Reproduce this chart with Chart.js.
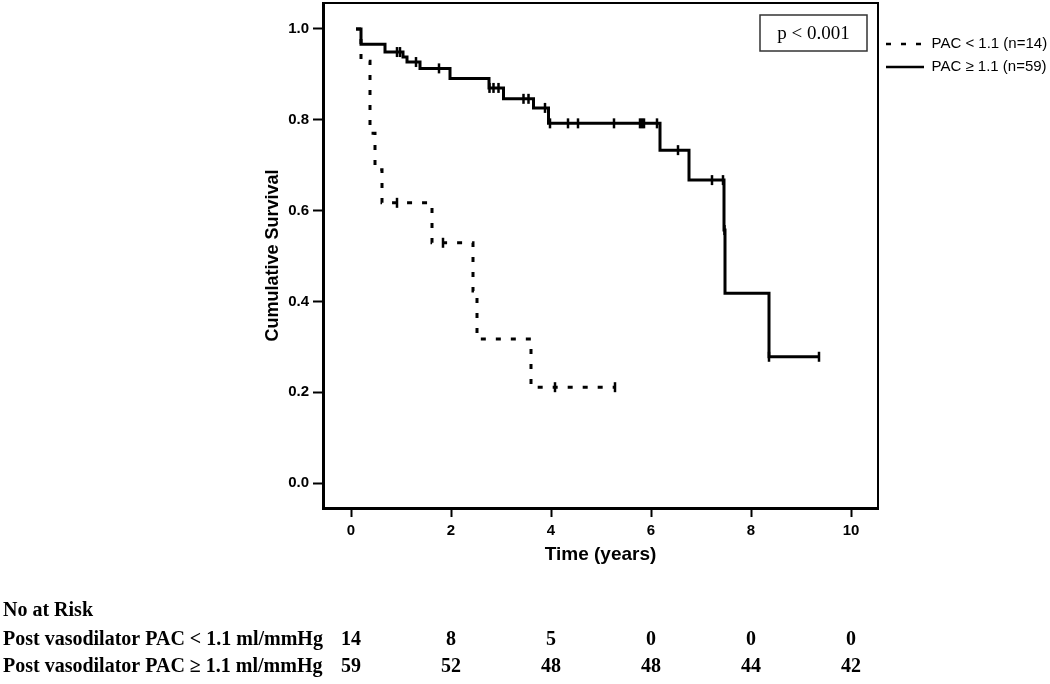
<!DOCTYPE html>
<html>
<head>
<meta charset="utf-8">
<script src="https://cdn.jsdelivr.net/npm/chart.js@4.4.1/dist/chart.umd.min.js"></script>
<style>
  html, body { margin: 0; padding: 0; background: #fff; }
  #wrap { width: 1050px; height: 684px; }
</style>
</head>
<body>
<div id="wrap"><canvas id="km" width="1050" height="684"></canvas></div>
<script>
// Kaplan-Meier steps (time in years, survival after the step)
const lowTimes = [0.1, 0.2, 0.38, 0.48, 0.62, 1.62, 2.44, 2.52, 3.6, 5.28];
const lowSurv = [1.0, 0.929, 0.77, 0.69, 0.617, 0.529, 0.423, 0.317, 0.211, 0.211];
const lowCensor = [0.92, 1.84, 4.08, 5.28];

const highTimes = [0.1, 0.2, 0.68, 1.04, 1.12, 1.38, 1.98, 2.76, 3.05, 3.65, 3.95, 6.18, 6.76, 7.46, 7.48, 8.36, 9.36];
const highSurv = [1.0, 0.966, 0.949, 0.938, 0.927, 0.913, 0.891, 0.870, 0.846, 0.826, 0.792, 0.733, 0.667, 0.557, 0.418, 0.278, 0.278];
const highCensor = [0.92, 0.98, 1.3, 1.76, 2.77, 2.85, 2.95, 3.45, 3.55, 3.88, 3.98, 4.34, 4.54, 5.26,
  5.78, 5.82, 5.86, 6.12, 6.54, 7.22, 7.44, 7.47, 8.36, 9.36];

const seriesNames = ["PAC < 1.1 (n=14)", "PAC \u2265 1.1 (n=59)"];
const xTicks = [0, 2, 4, 6, 8, 10];
const yTicks = [0, 0.2, 0.4, 0.6, 0.8, 1.0];

// number at risk table
const riskTimes = [0, 2, 4, 6, 8, 10];
const riskLow = [14, 8, 5, 0, 0, 0];
const riskHigh = [59, 52, 48, 48, 44, 42];
const riskTitle = "No at Risk";
const riskLabels = ["Post vasodilator PAC < 1.1 ml/mmHg", "Post vasodilator PAC \u2265 1.1 ml/mmHg"];
const pText = "p < 0.001";

const SANS = '"Liberation Sans", Arial, sans-serif';
const SERIF = '"Liberation Serif", "Times New Roman", serif';

function survAt(times, surv, t) {
  let s = surv[0];
  for (let i = 0; i < times.length; i++) {
    if (times[i] <= t) s = surv[i];
  }
  return s;
}

function curve(times, surv) {
  return times.map((t, i) => ({ x: t, y: surv[i] }));
}

function marks(cens, times, surv) {
  return cens.map(t => ({ x: t, y: survAt(times, surv, t) }));
}

// box around the plot + p value
const framePlugin = {
  id: 'frame',
  afterDraw(chart) {
    const { ctx, chartArea: a } = chart;
    ctx.save();
    ctx.strokeStyle = '#000';
    ctx.lineWidth = 2;
    ctx.strokeRect(a.left, a.top, a.right - a.left, a.bottom - a.top);

    const bw = 107, bh = 36;
    const bx = a.right - 118, by = a.top + 12;
    ctx.lineWidth = 1.5;
    ctx.strokeStyle = '#333';
    ctx.strokeRect(bx, by, bw, bh);
    ctx.fillStyle = '#000';
    ctx.font = '19px ' + SERIF;
    ctx.textAlign = 'center';
    ctx.textBaseline = 'middle';
    ctx.fillText(pText, bx + bw / 2, by + bh / 2 + 1);
    ctx.restore();
  }
};

// number at risk rows under the x axis
const riskPlugin = {
  id: 'risk',
  afterDraw(chart) {
    const ctx = chart.ctx;
    const xs = chart.scales.x;
    ctx.save();
    ctx.fillStyle = '#000';
    ctx.font = 'bold 20px ' + SERIF;
    ctx.textBaseline = 'middle';
    ctx.textAlign = 'left';
    ctx.fillText(riskTitle, 3, 611);
    ctx.fillText(riskLabels[0], 3, 640);
    ctx.fillText(riskLabels[1], 3, 667);
    ctx.textAlign = 'center';
    riskTimes.forEach((t, i) => {
      const px = xs.getPixelForValue(t);
      ctx.fillText(String(riskLow[i]), px, 640);
      ctx.fillText(String(riskHigh[i]), px, 667);
    });
    ctx.restore();
  }
};

const ctx = document.getElementById('km').getContext('2d');
new Chart(ctx, {
  type: 'line',
  data: {
    datasets: [
      {
        label: seriesNames[0],
        data: curve(lowTimes, lowSurv),
        borderColor: '#000',
        borderWidth: 3,
        borderDash: [5, 10],
        stepped: 'before',
        pointRadius: 0,
        fill: false
      },
      {
        label: seriesNames[1],
        data: curve(highTimes, highSurv),
        borderColor: '#000',
        borderWidth: 3,
        stepped: 'before',
        pointRadius: 0,
        fill: false
      },
      {
        label: 'censor-low',
        data: marks(lowCensor, lowTimes, lowSurv),
        showLine: false,
        pointStyle: 'line',
        rotation: 90,
        pointRadius: 5,
        pointBorderWidth: 2.5,
        borderColor: '#000'
      },
      {
        label: 'censor-high',
        data: marks(highCensor, highTimes, highSurv),
        showLine: false,
        pointStyle: 'line',
        rotation: 90,
        pointRadius: 5,
        pointBorderWidth: 2.5,
        borderColor: '#000'
      }
    ]
  },
  options: {
    responsive: false,
    animation: false,
    devicePixelRatio: 1,
    layout: { autoPadding: false, padding: { left: 258, top: 3, bottom: 114, right: 0 } },
    plugins: {
      tooltip: { enabled: false },
      legend: {
        position: 'right',
        align: 'start',
        maxWidth: 172,
        title: { display: true, text: ' ', font: { size: 12 }, padding: { top: 11, bottom: 0 } },
        labels: {
          usePointStyle: true,
          pointStyle: 'line',
          pointStyleWidth: 38,
          padding: 8,
          color: '#000',
          font: { family: SANS, size: 15 },
          generateLabels: chart => Chart.defaults.plugins.legend.labels.generateLabels(chart)
            .filter(item => item.datasetIndex < 2)
            .map(item => Object.assign(item, {
              lineDash: chart.data.datasets[item.datasetIndex].borderDash || [],
              lineWidth: 2.5
            }))
        }
      }
    },
    scales: {
      x: {
        type: 'linear',
        min: -0.56,
        max: 10.54,
        afterBuildTicks: s => { s.ticks = xTicks.map(v => ({ value: v })); },
        afterFit: s => { s.height = 62; },
        ticks: { color: '#000', padding: 5, font: { family: SANS, size: 15, weight: 'bold' } },
        grid: { drawOnChartArea: false, drawTicks: true, tickLength: 9, tickWidth: 2, tickColor: '#000' },
        border: { display: true, color: '#000', width: 3 },
        title: { display: true, text: 'Time (years)', color: '#000', padding: { top: 0, bottom: 4 },
          font: { family: SANS, size: 19, weight: 'bold' } }
      },
      y: {
        type: 'linear',
        min: -0.055,
        max: 1.057,
        afterBuildTicks: s => { s.ticks = yTicks.map(v => ({ value: v })); },
        afterFit: s => { s.width = 65; s.paddingTop = 0; s.paddingBottom = 0; },
        ticks: { color: '#000', padding: 4, font: { family: SANS, size: 15, weight: 'bold' },
          callback: v => Number(v).toFixed(1) },
        grid: { drawOnChartArea: false, drawTicks: true, tickLength: 10, tickWidth: 2, tickColor: '#000' },
        border: { display: true, color: '#000', width: 3 },
        title: { display: true, text: 'Cumulative Survival', color: '#000', padding: 4,
          font: { family: SANS, size: 18, weight: 'bold' } }
      }
    }
  },
  plugins: [framePlugin, riskPlugin]
});
</script>
</body>
</html>
